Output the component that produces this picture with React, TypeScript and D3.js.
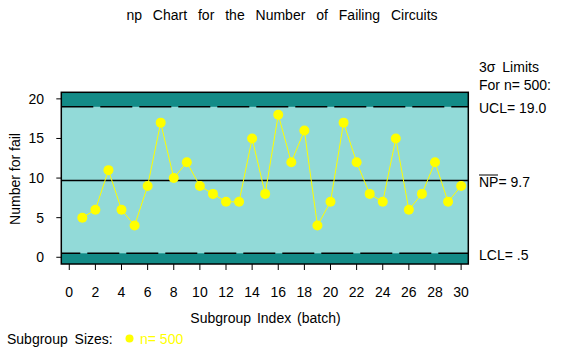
import React from "react";
import * as d3 from "d3";

const subgroups = [1,2,3,4,5,6,7,8,9,10,11,12,13,14,15,16,17,18,19,20,21,22,23,24,25,26,27,28,29,30];
const failCounts = [5,6,11,6,4,9,17,10,12,9,8,7,7,15,8,18,12,16,4,7,17,12,8,7,15,6,8,12,7,9];
const xTicks = [0,2,4,6,8,10,12,14,16,18,20,22,24,26,28,30];
const yTicks = [0,5,10,15,20];
const UCL = 19.0;
const CENTER = 9.7;
const LCL = 0.5;
const subgroupSize = 500;

const W = 562, H = 350;
const FONT = "'Liberation Sans', Arial, sans-serif";
const DARK = "#138b87";
const LIGHT = "#92dad8";

export default function App() {
  const left = 61.3, right = 468.3, top = 92.3, bottom = 264;
  const x = d3.scaleLinear().domain([-0.61, 30.55]).range([left, right]);
  const y = d3.scaleLinear().domain([-0.85, 20.83]).range([bottom, top]);
  const line = d3.line<number>().x((_, i) => x(subgroups[i])).y((d) => y(d));

  return (
    <div style={{ position: "absolute", left: 0, top: 0 }}>
      <svg width={W} height={H} style={{ display: "block", fontFamily: FONT }}>
        <rect width={W} height={H} fill="#fff" />
        <text x={282} y={20} textAnchor="middle" fontSize={14} wordSpacing={7}>
          np Chart for the Number of Failing Circuits
        </text>

        {/* bands */}
        <rect x={left} y={top} width={right - left} height={bottom - top} fill={DARK} />
        <rect x={left} y={y(UCL)} width={right - left} height={y(LCL) - y(UCL)} fill={LIGHT} />
        <line x1={left} x2={right} y1={y(UCL)} y2={y(UCL)} stroke="#000" strokeWidth={1.5} strokeDasharray="32,7" />
        <line x1={left} x2={right} y1={y(LCL)} y2={y(LCL)} stroke="#000" strokeWidth={1.5} strokeDasharray="32,7" strokeDashoffset={13} />
        <line x1={left} x2={right} y1={y(CENTER)} y2={y(CENTER)} stroke="#000" strokeWidth={1.5} />

        {/* data */}
        <path d={line(failCounts) || ""} fill="none" stroke="#ffff00" strokeWidth={1} />
        {failCounts.map((v, i) => (
          <circle key={i} cx={x(subgroups[i])} cy={y(v)} r={5} fill="#ffff00" />
        ))}

        <rect x={left} y={top} width={right - left} height={bottom - top} fill="none" stroke="#000" strokeWidth={1.5} />

        {/* y axis */}
        {yTicks.map((t) => (
          <g key={t}>
            <line x1={left - 5} x2={left} y1={y(t)} y2={y(t)} stroke="#000" strokeWidth={1} />
            <text x={44} y={y(t) + 5} textAnchor="end" fontSize={14}>{t}</text>
          </g>
        ))}
        <text transform="translate(20,179) rotate(-90)" textAnchor="middle" fontSize={14}>Number for fail</text>

        {/* x axis */}
        {xTicks.map((t) => (
          <g key={t}>
            <line x1={x(t)} x2={x(t)} y1={bottom} y2={bottom + 6} stroke="#000" strokeWidth={1} />
            <text x={x(t)} y={297} textAnchor="middle" fontSize={14}>{t}</text>
          </g>
        ))}
        <text x={265.5} y={323} textAnchor="middle" fontSize={14} wordSpacing={2}>Subgroup Index (batch)</text>

        {/* legend */}
        <text x={7} y={344} fontSize={14} wordSpacing={3}>Subgroup Sizes:</text>
        <circle cx={129.5} cy={338.5} r={4} fill="#ffff00" />
        <text x={140} y={344} fontSize={14} fill="#ffff00">n= {subgroupSize}</text>

        {/* right labels */}
        <text x={479} y={72} fontSize={14} wordSpacing={3}>3σ Limits</text>
        <text x={479} y={90} fontSize={14}>For n= {subgroupSize}:</text>
        <text x={479} y={113} fontSize={14}>UCL= {UCL.toFixed(1)}</text>
        <line x1={479} x2={498} y1={175} y2={175} stroke="#000" strokeWidth={1} />
        <text x={479} y={187} fontSize={14}>NP= {CENTER.toFixed(1)}</text>
        <text x={479} y={260} fontSize={14}>LCL= {LCL.toFixed(1).replace(/^0/, "")}</text>
      </svg>
    </div>
  );
}
